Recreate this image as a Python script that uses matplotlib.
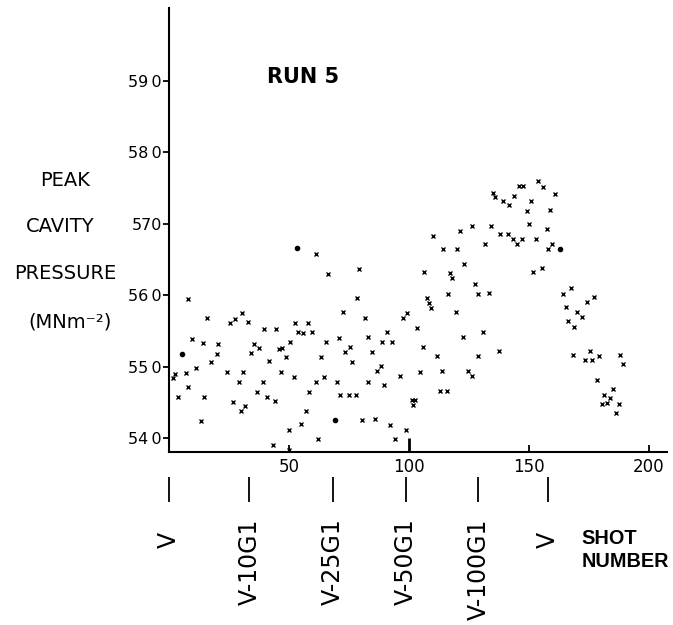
import matplotlib
matplotlib.use("Agg")
import matplotlib.pyplot as plt

# ---- data (shot number, peak cavity pressure) ----
shot_x = [61.1, 66.1, 79.2, 8.1, 78.2, 15.8, 30.5, 72.4, 81.7, 25.4, 27.5, 32.8, 39.4, 44.4,
          52.5, 57.8, 53.6, 56.0, 59.5, 9.4, 14.2, 20.6, 35.4, 37.6, 34.0, 45.7, 47.2, 50.6,
          65.4, 70.7, 73.3, 75.5, 83.0, 19.9, 17.4, 41.5, 48.8, 63.5, 76.4, 11.3, 24.0, 31.0,
          46.7, 2.5, 1.5, 7.0, 51.9, 61.1, 64.7, 69.9, 82.9, 29.3, 39.3, 8.1, 36.5, 3.9, 14.6,
          40.8, 44.0, 58.5, 71.3, 75.0, 77.9, 26.8, 29.9, 31.8, 57.1, 13.2, 80.5, 54.9, 50.1,
          62.2, 43.3, 50.1,
          134.9, 135.8, 139.3, 141.8, 143.9, 145.9, 147.6, 150.7, 149.0, 153.9, 150.1, 152.9,
          109.9, 121.3, 126.3, 134.2, 137.9, 141.1, 143.2, 144.9, 147.0, 131.7, 114.0, 120.1,
          123.1, 151.8, 106.1, 117.1, 118.0, 127.4, 116.1, 128.9, 133.5, 107.4, 108.3, 109.2,
          119.6, 97.6, 99.0, 103.5, 90.7, 88.6, 93.0, 122.3, 131.0, 84.6, 106.0, 111.8, 128.8,
          137.6, 86.8, 88.2, 96.3, 104.7, 113.9, 124.7, 126.1, 89.6, 112.9, 115.7, 101.1, 102.5,
          101.8, 85.7, 92.1, 98.8, 94.0,
          156.0, 160.8, 158.8, 157.4, 158.1, 159.7, 155.3, 164.0, 167.4, 165.3, 170.1, 172.2,
          166.4, 168.9, 174.3, 177.1, 168.2, 173.3, 176.4, 175.4, 179.2, 187.9, 189.3, 178.2,
          185.1, 181.3, 183.8, 182.6, 180.3, 187.4, 186.4]
pressure_y = [565.7, 563.0, 563.6, 559.5, 559.6, 556.8, 557.5, 557.6, 556.8, 556.1, 556.7, 556.2, 555.3, 555.3,
              556.1, 556.1, 554.8, 554.7, 554.9, 553.9, 553.3, 553.1, 553.1, 552.6, 551.9, 552.5, 552.6, 553.4,
              553.4, 554.0, 552.1, 552.7, 554.1, 551.8, 550.6, 550.8, 551.3, 551.3, 550.7, 549.8, 549.2, 549.3,
              549.3, 549.0, 548.4, 549.1, 548.5, 547.9, 548.6, 547.9, 547.9, 547.8, 547.8, 547.1, 546.5, 545.8, 545.8,
              545.8, 545.2, 546.5, 546.0, 546.0, 546.0, 545.1, 543.8, 544.5, 543.8, 542.4, 542.5, 541.9, 541.1,
              539.8, 539.0, 538.3,
              574.3, 573.8, 573.2, 572.6, 573.9, 575.3, 575.3, 573.2, 571.8, 576.0, 569.9, 567.9,
              568.3, 569.0, 569.7, 569.7, 568.5, 568.5, 567.9, 567.2, 567.9, 567.1, 566.5, 566.5,
              564.4, 563.2, 563.2, 563.1, 562.4, 561.6, 560.2, 560.2, 560.3, 559.6, 558.9, 558.2,
              557.6, 556.8, 557.5, 555.4, 554.8, 553.4, 553.5, 554.1, 554.8, 552.1, 552.7, 551.5, 551.5,
              552.2, 549.4, 550.1, 548.7, 549.3, 549.4, 549.4, 548.7, 547.4, 546.6, 546.6, 545.3, 545.3,
              544.6, 542.6, 541.8, 541.1, 539.9,
              575.1, 574.1, 571.9, 569.2, 566.5, 567.2, 563.8, 560.2, 561.0, 558.3, 557.6, 556.9,
              556.4, 555.6, 559.0, 559.7, 551.6, 550.9, 550.9, 552.2, 551.5, 551.6, 550.4, 548.1,
              546.9, 546.0, 545.6, 544.9, 544.7, 544.8, 543.5]

# heavier (blotted) points
dot_x = [5.3, 69.2, 53.2, 162.9]
dot_y = [551.7, 542.5, 566.6, 566.5]

y_ticks = [540, 550, 560, 570, 580, 590]
y_ticklabels = ["54\u20090", "55\u20090", "56\u20090", "570", "58\u20090", "59\u20090"]
x_ticks = [50, 100, 150, 200]

event_x = [0.0, 33.5, 68.2, 98.8, 128.9, 157.8]
event_labels = ["V", "V-10G1", "V-25G1", "V-50G1", "V-100G1", "V"]

# ---- figure ----
fig = plt.figure(figsize=(6.73, 6.25), dpi=100)
ax = fig.add_axes([0.2511, 0.2768, 0.740, 0.7104])

ax.plot(shot_x, pressure_y, linestyle="none", marker="x", ms=3.0, mew=1.0, color="black")
ax.plot(dot_x, dot_y, linestyle="none", marker="o", ms=3.0, color="black")

ax.set_xlim(0, 207.5)
ax.set_ylim(538.04, 600.2)

for s in ["top", "right"]:
    ax.spines[s].set_visible(False)
for s in ["left", "bottom"]:
    ax.spines[s].set_linewidth(1.5)

ax.set_yticks(y_ticks)
ax.set_yticklabels(y_ticklabels, fontsize=11.5)
ax.tick_params(axis="y", direction="out", length=4, width=1.3, pad=1)
ax.set_xticks(x_ticks)
ax.set_xticklabels([str(v) for v in x_ticks], fontsize=12)
ax.tick_params(axis="x", direction="in", length=5, width=1.3, pad=4)
for t, v in zip(ax.xaxis.get_major_ticks(), x_ticks):
    if v == 100:
        t.tick1line.set_markersize(10)
        t.tick1line.set_markeredgewidth(2)

# event markers below the axis
trans = ax.get_xaxis_transform()
ax.vlines(event_x, -0.113, -0.056, transform=trans, colors="black", lw=1.3, clip_on=False)
for xv, lab in zip(event_x, event_labels):
    ytop = -0.18 if lab == "V" else -0.149
    ax.text(xv, ytop, lab, transform=trans, rotation=90, ha="center", va="top",
            fontsize=17, clip_on=False)

fig.text(0.864, 0.12, "SHOT\nNUMBER", ha="left", va="center", fontsize=14.3,
         fontweight="bold", family=["Liberation Sans", "DejaVu Sans"], linespacing=1.3)

# title
fig.text(0.397, 0.877, "RUN 5", ha="left", va="center", fontsize=15, fontweight="bold")

# y label lines
fig.text(0.0966, 0.712, "PEAK", ha="center", va="center", fontsize=14)
fig.text(0.089, 0.637, "CAVITY", ha="center", va="center", fontsize=14)
fig.text(0.0966, 0.563, "PRESSURE", ha="center", va="center", fontsize=14)
fig.text(0.104, 0.485, "(MNm\u207b\u00b2)", ha="center", va="center", fontsize=14)

fig.savefig("out.png", dpi=100)
